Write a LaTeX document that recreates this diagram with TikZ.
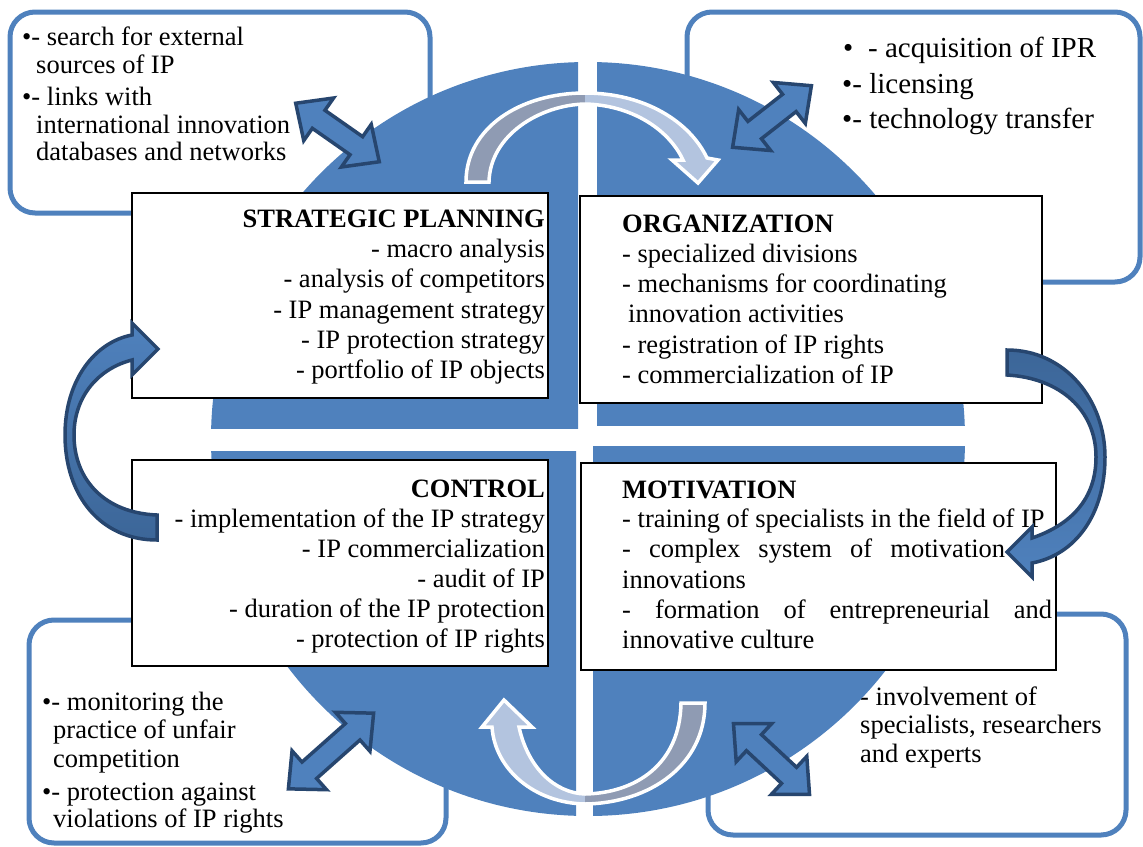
\documentclass[tikz,border=0pt]{standalone}
\usepackage{fontspec}
\setmainfont{Liberation Serif}
\definecolor{accent}{HTML}{4F81BD}
\definecolor{darkblue}{HTML}{27466F}
\definecolor{cyclegray}{HTML}{8F9BB3}
\definecolor{cyclelight}{HTML}{B3C4DF}
\definecolor{sidedark}{HTML}{3C6698}
\newcommand\dblarr[4]{%
  \begin{scope}[shift={(#1,#2)}, rotate=#3]
    \draw[dblarrstyle] (-#4,0) -- (-#4+28,26) -- (-#4+28,11) -- (#4-28,11) -- (#4-28,26) -- (#4,0)
      -- (#4-28,-26) -- (#4-28,-11) -- (-#4+28,-11) -- (-#4+28,-26) -- cycle;
  \end{scope}}
\newcommand\topcyclepath{(466,182) .. controls (466,128) and (520,93) .. (585,93)
  .. controls (645,93) and (690,122) .. (707,158) -- (718,160) -- (698,183) -- (672,160) -- (683,160)
  .. controls (668,128) and (630,105) .. (585,104) .. controls (540,105) and (490,135) .. (489,182) -- cycle}
\newcommand\botcyclepath{(705,703) .. controls (705,765) and (650,803) .. (585,804)
  .. controls (535,803) and (495,770) .. (492,727) -- (482,727) -- (504,700) -- (532,727) -- (519,727)
  .. controls (528,768) and (555,793) .. (585,794) .. controls (635,793) and (680,765) .. (681,703) -- cycle}
\begin{document}
\begin{tikzpicture}[x=1pt,y=-1pt,
  txt/.style={inner sep=0pt, font=\fontsize{26.5}{30}\selectfont},
  lt/.style={txt, anchor=base west},
  rt/.style={txt, anchor=base east},
  ltbig/.style={inner sep=0pt, anchor=base west, font=\fontsize{29}{34}\selectfont},
  cornerbox/.style={draw=accent, line width=5pt, fill=white, rounded corners=25pt, inner sep=0pt},
  mainbox/.style={draw=black, line width=1.6pt, fill=white, inner sep=0pt},
  dblarrstyle/.style={draw=darkblue, line width=3.5pt, fill=accent, line join=miter},
  sidearrow/.style={draw=darkblue, line width=3.5pt, line join=miter},
  cycleoutline/.style={draw=white, line width=3.5pt, line join=miter}
]
\useasboundingbox (0,0) rectangle (1143,846);
% corner boxes
\node[cornerbox, minimum width=420pt, minimum height=201pt] (tlc) at (220,112.5) {};
\node[cornerbox, minimum width=453pt, minimum height=270pt] (trc) at (913.5,147) {};
\node[cornerbox, minimum width=417pt, minimum height=223pt] (blc) at (237.5,731.5) {};
\node[cornerbox, minimum width=418pt, minimum height=221pt] (brc) at (917,724.5) {};
% corner texts
\node[lt] (tl1) at (22,45) {•- search for external};
\node[lt] (tl2) at (36,73) {sources of IP};
\node[lt] (tl3) at (22,105) {•- links with};
\node[lt] (tl4) at (36,133) {international innovation};
\node[lt] (tl5) at (36,160) {databases and networks};
\node[ltbig] (tr1) at (843,57) {\makebox[25pt][l]{•}- acquisition of IPR};
\node[ltbig] (tr2) at (842,93) {•- licensing};
\node[ltbig] (tr3) at (842,128) {•- technology transfer};
\node[lt] (bl1) at (42,710) {•- monitoring the};
\node[lt] (bl2) at (53,738) {practice of unfair};
\node[lt] (bl3) at (53,767) {competition};
\node[lt] (bl4) at (42,800) {•- protection against};
\node[lt] (bl5) at (53,827) {violations of IP rights};
\node[lt] (br1) at (860,705) {- involvement of};
\node[lt] (br2) at (860,733) {specialists, researchers};
\node[lt] (br3) at (860,762) {and experts};
% circle quadrants
\begin{scope}\clip (0,0) rectangle (578,428); \fill[accent] (588,439) circle[radius=377]; \end{scope}
\begin{scope}\clip (597,0) rectangle (1143,425); \fill[accent] (588,439) circle[radius=377]; \end{scope}
\begin{scope}\clip (0,451) rectangle (576,846); \fill[accent] (588,439) circle[radius=377]; \end{scope}
\begin{scope}\clip (593,446) rectangle (1143,846); \fill[accent] (588,439) circle[radius=377]; \end{scope}
% main boxes
\node[mainbox, minimum width=416pt, minimum height=205pt] (sp) at (340,295.5) {};
\node[mainbox, minimum width=462pt, minimum height=207pt] (org) at (811,299.5) {};
\node[mainbox, minimum width=416pt, minimum height=206pt] (ctrl) at (340,563) {};
\node[mainbox, minimum width=475pt, minimum height=207pt] (mot) at (818.5,566.5) {};
% SP text
\node[rt] (sp0) at (545,227) {\textbf{STRATEGIC PLANNING}};
\node[rt] (sp1) at (545,257) {- macro analysis};
\node[rt] (sp2) at (545,287) {- analysis of competitors};
\node[rt] (sp3) at (545,318) {- IP management strategy};
\node[rt] (sp4) at (545,348) {- IP protection strategy};
\node[rt] (sp5) at (545,378) {- portfolio of IP objects};
% ORG text
\node[lt] (org0) at (622,232) {\textbf{ORGANIZATION}};
\node[lt] (org1) at (622,262) {- specialized divisions};
\node[lt] (org2) at (622,292) {- mechanisms for coordinating};
\node[lt] (org3) at (628,322) {innovation activities};
\node[lt] (org4) at (622,353) {- registration of IP rights};
\node[lt] (org5) at (622,383) {- commercialization of IP};
% CONTROL text
\node[rt] (ct0) at (545,497) {\textbf{CONTROL}};
\node[rt] (ct1) at (545,527) {- implementation of the IP strategy};
\node[rt] (ct2) at (545,557) {- IP commercialization};
\node[rt] (ct3) at (545,587) {- audit of IP};
\node[rt] (ct4) at (545,617) {- duration of the IP protection};
\node[rt] (ct5) at (545,647) {- protection of IP rights};
% MOT text
\node[lt] (mo0) at (622,498) {\textbf{MOTIVATION}};
\node[lt] (mo1) at (622,527) {- training of specialists in the field of IP};
\node[lt] (mo2) at (622,557) {\makebox[383pt][s]{- complex system of motivation}};
\node[lt] (mo3) at (622,588) {innovations};
\node[lt] (mo4) at (622,618) {\makebox[430pt][s]{- formation of entrepreneurial and}};
\node[lt] (mo5) at (622,648) {innovative culture};
% double arrows
\dblarr{337.5}{132.5}{-35}{51}
\dblarr{772}{116.5}{38}{50}
\dblarr{331}{751}{41.6}{57}
\dblarr{771.5}{759}{-43}{52}
% side curved arrows
\draw[sidearrow, top color=accent, bottom color=sidedark]
  (157,540) .. controls (100,540) and (65,495) .. (65,435) .. controls (65,380) and (95,342) .. (132,335)
  -- (132,323) -- (158,349) -- (132,375) -- (132,360)
  .. controls (100,368) and (74,395) .. (74,435) .. controls (74,480) and (105,513) .. (157,515) -- cycle;
\draw[sidearrow, top color=sidedark, bottom color=accent]
  (1007,350) .. controls (1065,350) and (1105,400) .. (1105,457) .. controls (1105,515) and (1075,555) .. (1032,563)
  -- (1032,577) -- (1007,552) -- (1032,527) -- (1032,538)
  .. controls (1070,525) and (1096,500) .. (1096,457) .. controls (1096,410) and (1060,378) .. (1007,375) -- cycle;
% cycle arrows
\begin{scope}\clip (0,0) rectangle (585,846); \fill[cyclegray] \topcyclepath; \fill[cyclelight] \botcyclepath; \end{scope}
\begin{scope}\clip (585,0) rectangle (1143,846); \fill[cyclelight] \topcyclepath; \fill[cyclegray] \botcyclepath; \end{scope}
\draw[cycleoutline] \topcyclepath;
\draw[cycleoutline] \botcyclepath;
\end{tikzpicture}
\end{document}
